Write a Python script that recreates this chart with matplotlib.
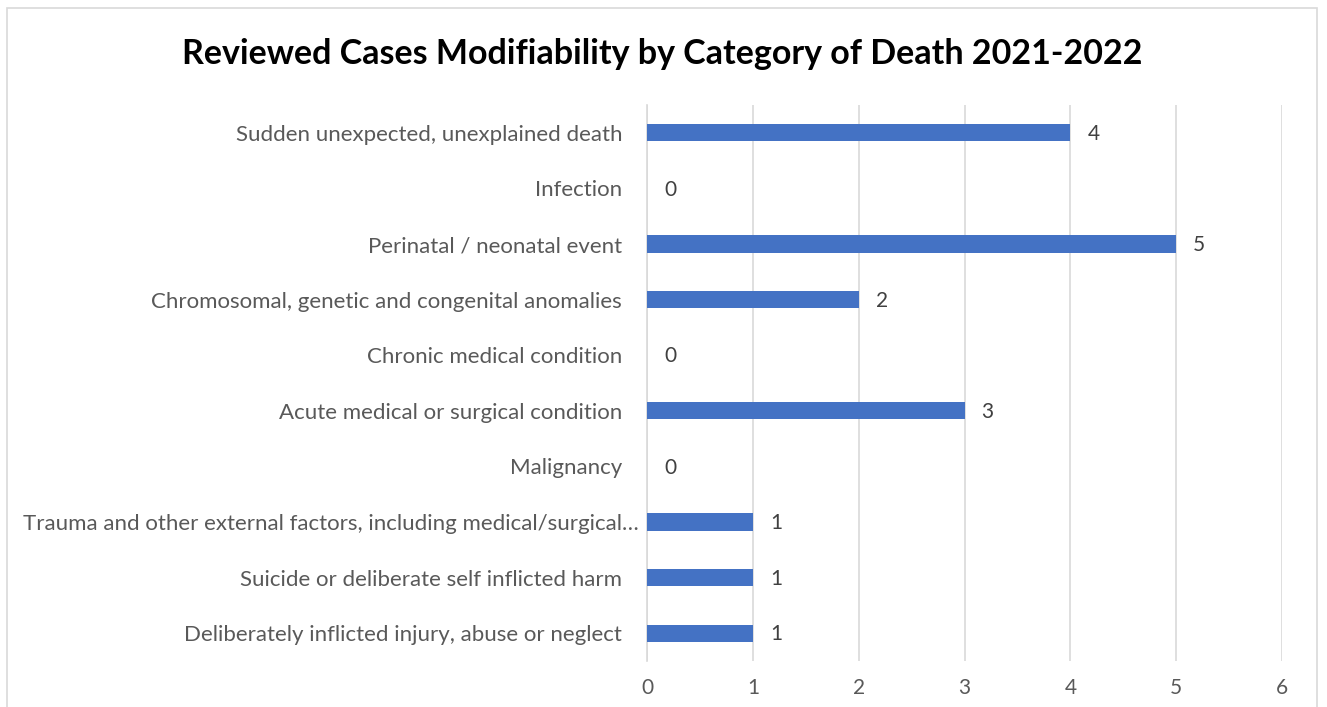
import matplotlib.pyplot as plt
from matplotlib.patches import Rectangle
from matplotlib.transforms import ScaledTranslation

plt.rcParams['font.family'] = ['Lato', 'DejaVu Sans']

categories = [
    'Sudden unexpected, unexplained death',
    'Infection',
    'Perinatal / neonatal event',
    'Chromosomal, genetic and congenital anomalies',
    'Chronic medical condition',
    'Acute medical or surgical condition',
    'Malignancy',
    'Trauma and other external factors, including medical/surgical…',
    'Suicide or deliberate self inflicted harm',
    'Deliberately inflicted injury, abuse or neglect',
]
counts = [4, 0, 5, 2, 0, 3, 0, 1, 1, 1]
xticks = [0, 1, 2, 3, 4, 5, 6]

fig = plt.figure(figsize=(13.27, 7.07), dpi=100)
ax = fig.add_axes([0.4876, 0.065, 0.4785, 0.7865])

# outer chart frame
fig.patches.append(Rectangle((7 / 1327, -0.01), 1310 / 1327, 1 - 8 / 707 + 0.01,
                             transform=fig.transFigure, fill=False,
                             edgecolor='#d9d9d9', linewidth=1.2))

y = list(range(len(categories)))
ax.barh(y, counts, height=0.31, color='#4472c4', zorder=3)
for yi, v in zip(y, counts):
    ax.text(v + 0.16, yi + 0.02, str(v), va='center', ha='left', fontsize=15, color='#404040')

ax.set_ylim(len(categories) - 0.5, -0.5)
ax.set_xlim(0, 6)
ax.set_xticks(xticks)
ax.set_yticks(y)
ax.set_yticklabels(categories, fontsize=16, color='#595959')
ax.tick_params(axis='x', labelsize=15, colors='#595959', length=0, pad=12)
ax.tick_params(axis='y', length=0, pad=18)
ax.grid(axis='x', color='#d9d9d9', linewidth=1.2, zorder=0)
for s in ['top', 'right', 'bottom']:
    ax.spines[s].set_visible(False)
ax.spines['left'].set_color('#d9d9d9')
ax.spines['left'].set_linewidth(1.2)

# the truncated long label sits closer to the axis
lbl = ax.get_yticklabels()[7]
lbl.set_transform(lbl.get_transform() + ScaledTranslation(0.17, 0, fig.dpi_scale_trans))

fig.text(0.4989, 1 - 54 / 707, 'Reviewed Cases Modifiability by Category of Death 2021-2022',
         ha='center', va='center', fontsize=24.5, fontweight='bold', color='black')

fig.savefig('out.png', dpi=100)
